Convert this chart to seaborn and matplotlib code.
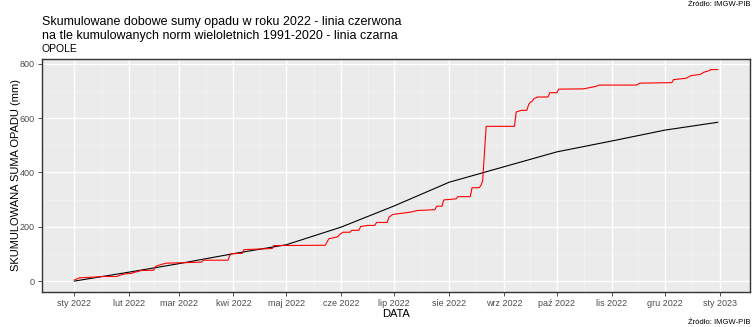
import numpy as np
import pandas as pd
import matplotlib
matplotlib.use("Agg")
import matplotlib.pyplot as plt
import seaborn as sns

# ---- data ----
start_date = "2022-01-01"
norm_days = [0, 31, 59, 90, 120, 151, 181, 212, 243, 273, 304, 334, 364]
norm_vals = [0, 33, 64, 101, 134, 199, 277, 364, 421, 476, 516, 556, 585]

rain_days = [0, 3, 12, 16, 24, 26, 29, 32, 35, 38, 45, 46, 48, 52, 63, 72, 73, 87, 88, 89,
             95, 96, 112, 113, 142, 144, 149, 150, 152, 156, 157, 161, 162, 166, 170, 171,
             177, 178, 180, 183, 188, 191, 194, 204, 205, 208, 209, 216, 217, 224, 225, 229,
             230, 231, 233, 249, 250, 253, 256, 257, 258, 259, 260, 262, 268, 269, 273, 274,
             288, 295, 297, 318, 320, 338, 339, 346, 349, 354, 356, 359, 360, 364]
rain_vals = [4, 12, 15, 17, 17, 22, 27, 28, 34, 39, 40, 54, 59, 66, 68, 70, 77, 77, 95, 101,
             102, 116, 120, 131, 132, 156, 163, 171, 180, 180, 187, 187, 201, 205, 205, 216,
             216, 235, 245, 248, 252, 255, 260, 263, 276, 276, 299, 303, 311, 311, 344, 344,
             352, 370, 570, 570, 623, 629, 629, 650, 659, 662, 672, 678, 678, 694, 694, 707,
             708, 717, 722, 722, 729, 731, 742, 747, 757, 761, 769, 775, 779, 779]

tick_labels = ["sty 2022", "lut 2022", "mar 2022", "kwi 2022", "maj 2022", "cze 2022",
               "lip 2022", "sie 2022", "wrz 2022", "paź 2022", "lis 2022", "gru 2022",
               "sty 2023"]
y_ticks = [0, 200, 400, 600, 800]
y_minor = [100, 300, 500, 700]

# ---- frames ----
t0 = pd.Timestamp(start_date)
norm_df = pd.DataFrame({"DATA": t0 + pd.to_timedelta(norm_days, unit="D"), "val": norm_vals})
rain_df = pd.DataFrame({"DATA": t0 + pd.to_timedelta(rain_days, unit="D"), "val": rain_vals})

sns.set_theme(style="darkgrid")
plt.rcParams["font.family"] = ["Liberation Sans", "DejaVu Sans"]

fig = plt.figure(figsize=(7.52, 3.27), dpi=100)
W, H = 752, 327
L, R, T, B = 42, 750, 59, 291.7
ax = fig.add_axes([L / W, 1 - B / H, (R - L) / W, (B - T) / H])
ax.set_facecolor("#EBEBEB")

sns.lineplot(data=norm_df, x="DATA", y="val", ax=ax, color="#000000", linewidth=0.8)
sns.lineplot(data=rain_df, x="DATA", y="val", ax=ax, color="#FF0000", linewidth=0.8)

major = pd.date_range("2022-01-01", "2023-01-01", freq="MS")
minor = major[:-1] + (major[1:] - major[:-1]) / 2
ax.set_xticks(major)
ax.set_xticklabels(tick_labels)
ax.set_xticks(minor, minor=True)
ax.set_yticks(y_ticks)
ax.set_yticks(y_minor, minor=True)

ax.set_xlim(t0 - pd.Timedelta(days=18.2), pd.Timestamp("2022-12-31") + pd.Timedelta(days=18.2))
ax.set_ylim(-39, 818)

ax.grid(which="major", color="white", linewidth=1.0)
ax.grid(which="minor", color="#F5F5F5", linewidth=0.5)
ax.set_axisbelow(True)
for s in ax.spines.values():
    s.set_visible(True)
    s.set_color("#333333")
    s.set_linewidth(1.0)

ax.tick_params(axis="both", which="major", length=3, width=0.6, color="#333333",
               labelsize=6.5, labelcolor="#4D4D4D", pad=2, bottom=True, left=True)
ax.tick_params(axis="both", which="minor", length=0)

ax.set_xlabel("DATA", fontsize=8, color="black", labelpad=1)
ax.set_ylabel("SKUMULOWANA SUMA OPADU (mm)", fontsize=8, color="black")
ax.yaxis.set_label_coords(16 / W, 0.5, transform=fig.transFigure)
ax.yaxis.label.set_va("center")
ax.yaxis.label.set_y(1 - 175 / H)

fig.text(42 / W, 1 - 22 / H, "Skumulowane dobowe sumy opadu w roku 2022 - linia czerwona",
         fontsize=9, va="center", ha="left", color="black")
fig.text(42 / W, 1 - 36 / H, "na tle kumulowanych norm wieloletnich 1991-2020 - linia czarna",
         fontsize=9, va="center", ha="left", color="black")
fig.text(42 / W, 1 - 49 / H, "OPOLE", fontsize=7.5, va="center", ha="left", color="black")
fig.text(750 / W, 1 - 4 / H, "Źródło: IMGW-PIB", fontsize=5.5, va="center", ha="right", color="black")
fig.text(750 / W, 1 - 322 / H, "Źródło: IMGW-PIB", fontsize=5.5, va="center", ha="right", color="black")

fig.savefig("out.png", dpi=100, facecolor="white")
